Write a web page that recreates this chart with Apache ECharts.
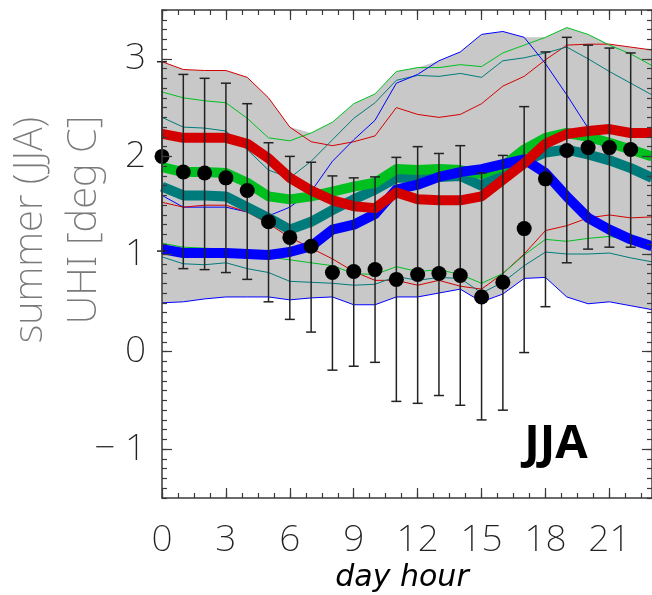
<!DOCTYPE html>
<html>
<head>
<meta charset="utf-8">
<script src="https://cdn.jsdelivr.net/npm/echarts@6/dist/echarts.min.js"></script>
<style>
html,body{margin:0;padding:0;background:#fff;}
#chart{width:652px;height:595px;}
</style>
</head>
<body>
<div id="chart"></div>
<script>
// ---- data ----
var hours = [0,1,2,3,4,5,6,7,8,9,10,11,12,13,14,15,16,17,18,19,20,21,22,23];
var xTickLabels = [0,3,6,9,12,15,18,21];
var yTickLabels = [-1,0,1,2,3];

// observed mean UHI (dots) with error bars, hours 0..22
var obsHours = [0,1,2,3,4,5,6,7,8,9,10,11,12,13,14,15,16,17,18,19,20,21,22];
var obsMean = [2.00,1.84,1.83,1.78,1.65,1.33,1.17,1.08,0.81,0.82,0.84,0.74,0.79,0.80,0.78,0.56,0.71,1.26,1.77,2.06,2.09,2.09,2.07];
var obsHigh = [2.97,2.84,2.80,2.75,2.54,2.14,2.00,1.94,1.80,1.78,1.79,1.99,2.10,2.03,2.11,1.83,2.01,2.51,3.07,3.22,3.14,3.11,3.06];
var obsLow  = [1.03,0.85,0.84,0.81,0.74,0.51,0.33,0.20,-0.19,-0.15,-0.11,-0.51,-0.53,-0.45,-0.55,-0.70,-0.60,-0.01,0.46,0.91,1.05,1.07,1.07];

// thick lines
var redMid   = [2.23,2.19,2.19,2.19,2.13,1.98,1.78,1.65,1.55,1.49,1.47,1.63,1.56,1.55,1.55,1.59,1.76,1.93,2.13,2.23,2.26,2.28,2.24,2.24];
var greenMid = [1.89,1.84,1.84,1.83,1.73,1.59,1.56,1.59,1.64,1.69,1.73,1.87,1.86,1.87,1.86,1.82,1.90,2.07,2.19,2.24,2.20,2.14,2.07,2.00];
var tealMid  = [1.69,1.60,1.60,1.59,1.48,1.37,1.25,1.33,1.45,1.56,1.66,1.78,1.78,1.79,1.80,1.70,1.84,1.95,2.04,2.07,2.02,1.96,1.88,1.78];
var blueMid  = [1.05,1.01,1.01,1.01,1.00,0.99,1.02,1.08,1.25,1.30,1.41,1.66,1.71,1.79,1.84,1.87,1.92,1.97,1.83,1.59,1.37,1.25,1.15,1.08];

// thin upper lines
var redHi   = [2.97,2.89,2.88,2.88,2.81,2.60,2.30,2.15,2.11,2.15,2.21,2.50,2.43,2.40,2.43,2.54,2.72,2.82,2.99,3.14,3.15,3.15,3.12,3.09];
var greenHi = [2.66,2.60,2.57,2.55,2.39,2.19,2.16,2.24,2.35,2.54,2.64,2.87,2.91,2.91,2.94,2.92,3.06,3.14,3.22,3.32,3.25,3.14,3.05,2.93];
var tealHi  = [2.40,2.30,2.29,2.26,2.07,1.86,1.78,1.95,2.17,2.39,2.55,2.78,2.83,2.82,2.85,2.81,2.98,3.01,3.06,3.12,3.00,2.87,2.75,2.63];
var blueHi  = [1.60,1.48,1.48,1.48,1.43,1.39,1.48,1.64,1.95,2.17,2.37,2.75,2.84,2.98,3.07,3.25,3.28,3.22,2.95,2.63,2.29,2.00,1.86,1.77];

// thin lower lines
var redLo   = [1.53,1.48,1.50,1.50,1.43,1.31,1.17,1.06,0.95,0.82,0.73,0.73,0.68,0.73,0.67,0.64,0.80,1.00,1.24,1.29,1.37,1.40,1.37,1.38];
var greenLo = [1.11,1.07,1.06,1.05,1.02,0.97,0.94,0.91,0.88,0.80,0.79,0.87,0.82,0.84,0.79,0.70,0.80,0.99,1.15,1.13,1.16,1.18,1.14,1.12];
var tealLo  = [0.97,0.90,0.89,0.91,0.85,0.81,0.72,0.71,0.70,0.68,0.69,0.77,0.73,0.76,0.75,0.60,0.71,0.88,1.02,1.00,1.00,1.01,0.96,0.92];
var blueLo  = [0.50,0.51,0.54,0.56,0.56,0.56,0.53,0.55,0.56,0.48,0.48,0.56,0.56,0.60,0.64,0.51,0.59,0.75,0.76,0.56,0.49,0.51,0.47,0.43];

// grey envelope
var bandUpper = [2.97,2.89,2.88,2.88,2.81,2.60,2.30,2.24,2.35,2.54,2.64,2.87,2.91,2.98,3.07,3.25,3.28,3.22,3.22,3.32,3.25,3.15,3.12,3.09];
var bandLower = [0.50,0.51,0.54,0.56,0.56,0.56,0.53,0.55,0.56,0.48,0.48,0.56,0.56,0.60,0.64,0.51,0.59,0.75,0.76,0.56,0.49,0.51,0.47,0.43];

// ---- styles ----
var C_RED = '#d40000', C_GREEN = '#00c020', C_TEAL = '#007b7b', C_BLUE = '#0000ff';
var TICK_FONT = "'Noto Sans', 'DejaVu Sans', sans-serif";

function pairs(ys){ return hours.map(function(h,i){ return [h, ys[i]]; }); }
function lineSeries(name, ys, color, width, z){
  return {name:name, type:'line', data:pairs(ys), symbol:'none', z:z,
    lineStyle:{color:color, width:width, join:'round'}, silent:true, clip:true};
}

var chart = echarts.init(document.getElementById('chart'), null, {renderer:'canvas'});

var axisLineStyle = {color:'#3a3a3a', width:1.5};
var tickStyle = {color:'#3a3a3a', width:1.2};

function xMajor(pos, labels){
  return {type:'value', position:pos, min:0, max:23, interval:3, z:10,
    axisLine:{show:true, lineStyle:axisLineStyle, onZero:false},
    axisTick:{show:true, inside:true, length:10, lineStyle:tickStyle, customValues:xTickLabels},
    axisLabel:{show:labels, customValues:xTickLabels, fontFamily:TICK_FONT, fontWeight:200, fontSize:37, color:'#222', margin:24},
    splitLine:{show:false}, minorTick:{show:false}};
}
function xMinor(pos){
  return {type:'value', position:pos, min:0, max:23, interval:0.75, z:10,
    axisLine:{show:false, onZero:false},
    axisTick:{show:true, inside:true, length:5, lineStyle:tickStyle},
    axisLabel:{show:false}, splitLine:{show:false}};
}
function yMajor(pos, labels){
  return {type:'value', position:pos, min:-1.5, max:3.5, interval:0.5, z:10,
    axisLine:{show:true, lineStyle:axisLineStyle, onZero:false},
    axisTick:{show:true, inside:true, length:10, lineStyle:tickStyle, customValues:yTickLabels},
    axisLabel:{show:labels, customValues:yTickLabels, fontFamily:TICK_FONT, fontWeight:200, fontSize:37, color:'#222', margin:16,
      formatter:function(v){ return v < 0 ? '\u2212 ' + Math.abs(v) : String(v); }},
    splitLine:{show:false}};
}
function yMinor(pos){
  return {type:'value', position:pos, min:-1.5, max:3.5, interval:0.1, z:10,
    axisLine:{show:false, onZero:false},
    axisTick:{show:true, inside:true, length:5, lineStyle:tickStyle},
    axisLabel:{show:false}, splitLine:{show:false}};
}

var option = {
  animation:false,
  backgroundColor:'#fff',
  grid:{left:162, right:-7, top:10, bottom:97, containLabel:false},
  xAxis:[xMajor('bottom', true), xMinor('bottom'), xMajor('top', false), xMinor('top')],
  yAxis:[yMajor('left', true), yMinor('left'), yMajor('right', false), yMinor('right')],
  series:[
    {type:'custom', name:'envelope', coordinateSystem:'cartesian2d', z:1, silent:true,
      data:[[0,0]],
      renderItem:function(params, api){
        var pts = [];
        for (var i=0;i<hours.length;i++) pts.push(api.coord([hours[i], bandUpper[i]]));
        for (var j=hours.length-1;j>=0;j--) pts.push(api.coord([hours[j], bandLower[j]]));
        return {type:'polygon', shape:{points:pts}, style:{fill:'#c8c8c8', stroke:null}};
      }},
    lineSeries('red upper', redHi, C_RED, 1, 2),
    lineSeries('green upper', greenHi, C_GREEN, 1, 2),
    lineSeries('teal upper', tealHi, C_TEAL, 1, 2),
    lineSeries('blue upper', blueHi, C_BLUE, 1, 2),
    lineSeries('red lower', redLo, C_RED, 1, 2),
    lineSeries('green lower', greenLo, C_GREEN, 1, 2),
    lineSeries('teal lower', tealLo, C_TEAL, 1, 2),
    lineSeries('blue lower', blueLo, C_BLUE, 1, 2),
    lineSeries('teal', tealMid, C_TEAL, 10, 3),
    lineSeries('green', greenMid, C_GREEN, 10, 3),
    lineSeries('blue', blueMid, C_BLUE, 10, 3),
    lineSeries('red', redMid, C_RED, 10, 3),
    {type:'custom', name:'error bars', coordinateSystem:'cartesian2d', z:4, silent:true,
      data: obsHours.map(function(h,i){ return [h, obsLow[i], obsHigh[i]]; }),
      encode:{x:0, y:[1,2]},
      renderItem:function(params, api){
        var lo = api.coord([api.value(0), api.value(1)]);
        var hi = api.coord([api.value(0), api.value(2)]);
        var hw = 5;
        var st = {stroke:'#222', lineWidth:1.5};
        return {type:'group', children:[
          {type:'line', shape:{x1:lo[0], y1:lo[1], x2:hi[0], y2:hi[1]}, style:st},
          {type:'line', shape:{x1:lo[0]-hw, y1:lo[1], x2:lo[0]+hw, y2:lo[1]}, style:st},
          {type:'line', shape:{x1:hi[0]-hw, y1:hi[1], x2:hi[0]+hw, y2:hi[1]}, style:st}
        ]};
      }},
    {type:'scatter', name:'observed', z:5, silent:true,
      data: obsHours.map(function(h,i){ return [h, obsMean[i]]; }),
      symbol:'circle', symbolSize:15, itemStyle:{color:'#000', opacity:1}}
  ],
  graphic:[
    {type:'text', x:31, y:230, rotation:Math.PI/2, z:20,
      style:{text:'summer (JJA)', fontFamily:TICK_FONT, fontWeight:200, fontSize:40, fill:'#7a7a7a', align:'center', verticalAlign:'middle'}},
    {type:'text', x:85, y:220, rotation:Math.PI/2, z:20,
      style:{text:'UHI [deg C]', fontFamily:TICK_FONT, fontWeight:200, fontSize:40, fill:'#7a7a7a', align:'center', verticalAlign:'middle'}},
    {type:'text', x:402, y:578, z:20,
      style:{text:'day hour', fontFamily:"'DejaVu Sans', sans-serif", fontStyle:'italic', fontSize:30, fill:'#000', align:'center', verticalAlign:'middle'}},
    {type:'text', x:556, y:445, z:20,
      style:{text:'JJA', fontFamily:"'Open Sans', 'Liberation Sans', sans-serif", fontWeight:'bold', fontSize:47, fill:'#000', align:'center', verticalAlign:'middle'}}
  ]
};
chart.setOption(option);
</script>
</body>
</html>
